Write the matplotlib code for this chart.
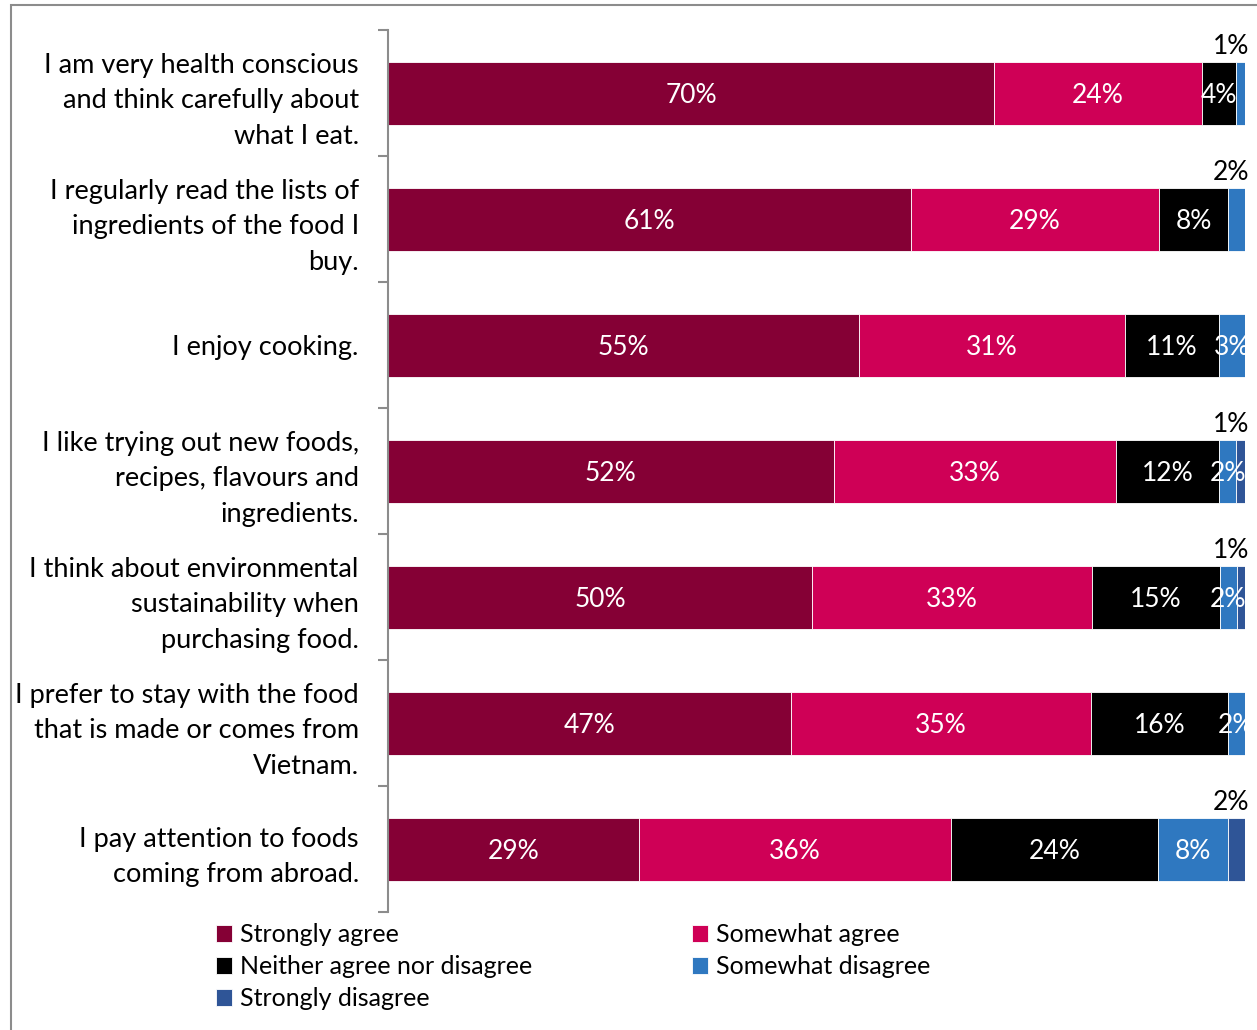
import matplotlib
matplotlib.use("Agg")
import matplotlib.pyplot as plt
import numpy as np
from matplotlib.patches import Rectangle

plt.rcParams["font.family"] = ["Lato", "DejaVu Sans"]

statements = [
    "I am very health conscious\nand think carefully about\nwhat I eat.",
    "I regularly read the lists of\ningredients of the food I\nbuy.",
    "I enjoy cooking.",
    "I like trying out new foods,\nrecipes, flavours and\ningredients.",
    "I think about environmental\nsustainability when\npurchasing food.",
    "I prefer to stay with the food\nthat is made or comes from\nVietnam.",
    "I pay attention to foods\ncoming from abroad.",
]
series = ["Strongly agree", "Somewhat agree", "Neither agree nor disagree",
          "Somewhat disagree", "Strongly disagree"]
colors = ["#850035", "#CF0056", "#000000", "#2F78C0", "#2F5597"]

strongly_agree = [70, 61, 55, 52, 50, 47, 29]
somewhat_agree = [24, 29, 31, 33, 33, 35, 36]
neither = [4, 8, 11, 12, 15, 16, 24]
somewhat_disagree = [1, 2, 3, 2, 2, 2, 8]
strongly_disagree = [0, 0, 0, 1, 1, 0, 2]

# labels that Excel put above the bar end instead of inside: (row, series)
outside_labels = {(0, 3), (1, 3), (3, 4), (4, 4), (6, 4)}

values = np.array([strongly_agree, somewhat_agree, neither,
                   somewhat_disagree, strongly_disagree], dtype=float)
shares = values / values.sum(axis=0) * 100  # 100% stacked

fig = plt.figure(figsize=(12.57, 10.30), dpi=100)
ax = fig.add_axes([388 / 1257, 1 - 912 / 1030, 857 / 1257, 882 / 1030])

y = np.arange(len(statements))
left = np.zeros(len(statements))
for i, name in enumerate(series):
    ax.barh(y, shares[i], left=left, height=0.5, color=colors[i],
            edgecolor="white", linewidth=0.6, label=name)
    for j in range(len(statements)):
        v = values[i, j]
        if v == 0:
            continue
        txt = f"{int(v)}%"
        if (j, i) in outside_labels:
            ax.text(100.5, j - 0.39, txt, ha="right", va="center_baseline",
                    fontsize=19, color="black", clip_on=False)
        else:
            ax.text(left[j] + shares[i, j] / 2, j, txt, ha="center",
                    va="center_baseline", fontsize=19, color="white")
    left += shares[i]

ax.set_xlim(0, 100)
ax.set_ylim(len(statements) - 0.5, -0.5)
ax.set_xticks([])
ax.set_yticks(y)
ax.set_yticklabels(statements, fontsize=19.5)
for lab in ax.get_yticklabels():
    lab.set_linespacing(1.52)
    lab.set_multialignment("right")
ax.set_yticks(np.arange(-0.5, len(statements)), minor=True)
ax.tick_params(axis="y", which="major", length=0, pad=21)
ax.tick_params(axis="y", which="minor", length=7, width=1.5, color="#8c8c8c")
for side in ["top", "right", "bottom"]:
    ax.spines[side].set_visible(False)
ax.spines["left"].set_color("#8c8c8c")
ax.spines["left"].set_linewidth(1.5)

# outer chart border (partly cut off by the image edge)
fig.patches.append(Rectangle((11 / 1257, -0.05), 1.2, 1 - 5 / 1030 + 0.05,
                             transform=fig.transFigure, fill=False,
                             edgecolor="#8c8c8c", linewidth=1.5))

handles, labels = ax.get_legend_handles_labels()
order = [0, 2, 4, 1, 3]
fig.legend([handles[k] for k in order], [labels[k] for k in order],
           ncol=2, loc="upper left", bbox_to_anchor=(216 / 1257, 1 - 923 / 1030),
           frameon=False, fontsize=18, handlelength=0.65, handleheight=0.65,
           handletextpad=0.3, columnspacing=6.4, labelspacing=0.36,
           borderpad=0, borderaxespad=0)

fig.savefig("out.png", dpi=100)
